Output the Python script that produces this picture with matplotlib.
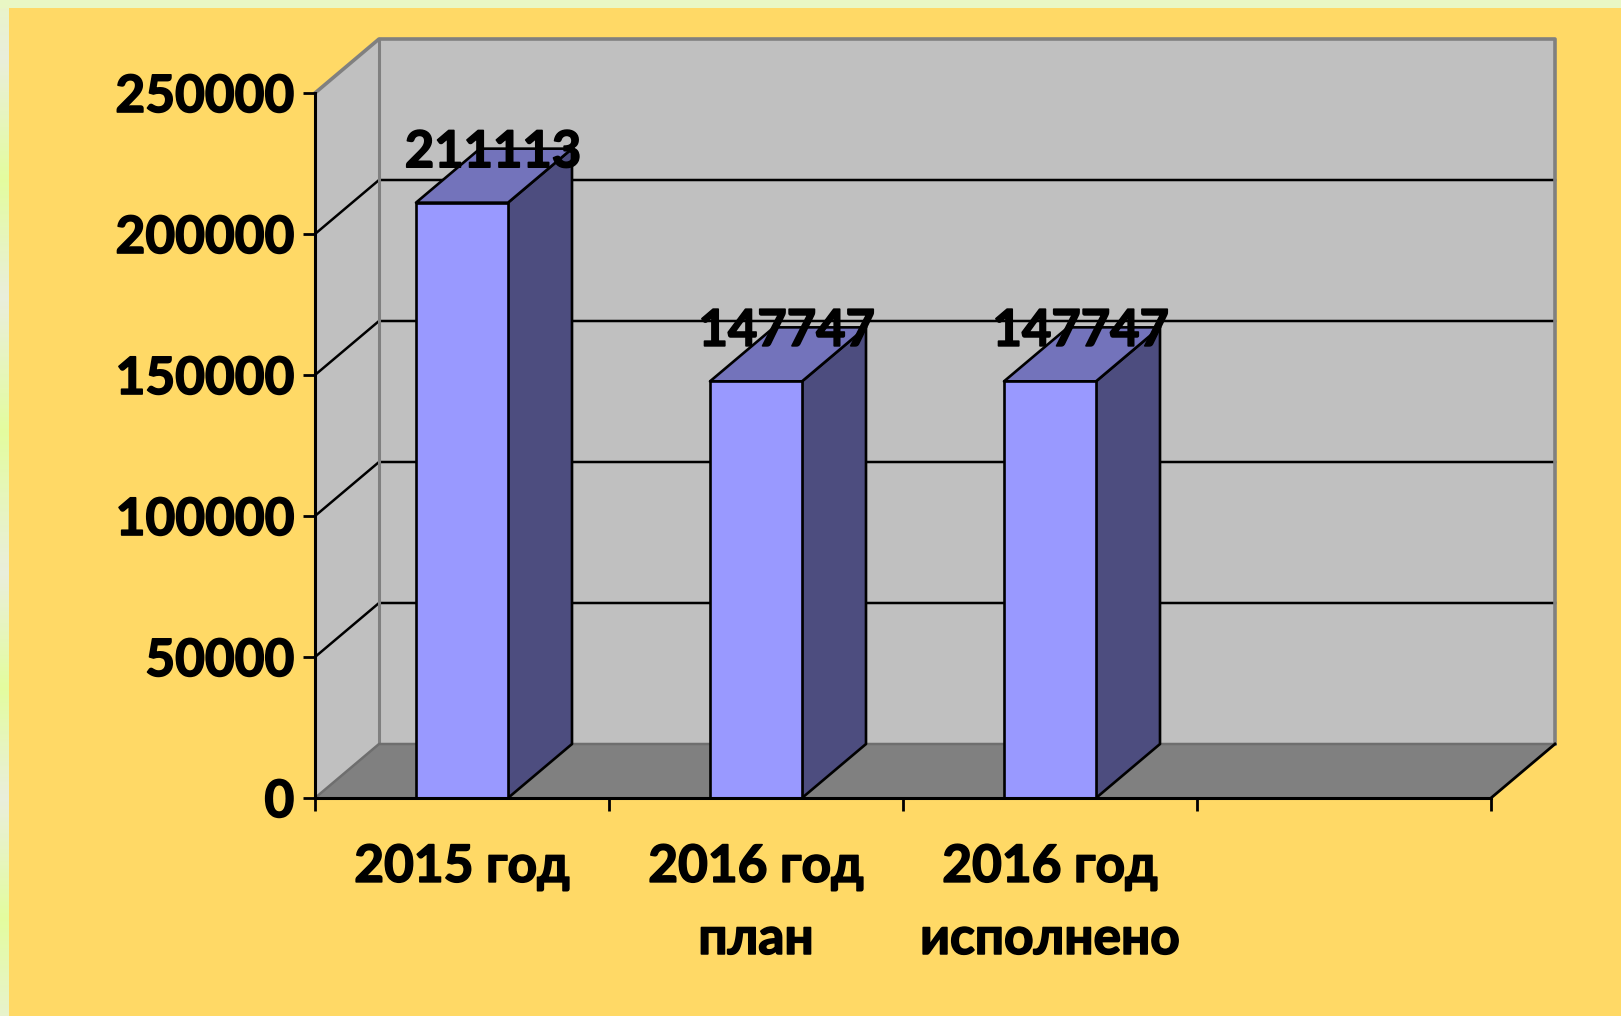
import matplotlib
matplotlib.use("Agg")
import matplotlib.pyplot as plt
from matplotlib.colors import LinearSegmentedColormap
from matplotlib.patches import Polygon, Rectangle
import matplotlib.patheffects as pe
import numpy as np

categories = ["2015 год", "2016 год\nплан", "2016 год\nисполнено"]
values = [211113, 147747, 147747]
y_ticks = [0, 50000, 100000, 150000, 200000, 250000]

W, H = 1621, 1016
plt.rcParams['font.family'] = ['Lato', 'DejaVu Sans']
plt.rcParams['font.weight'] = 'bold'

fig = plt.figure(figsize=(W / 100, H / 100), dpi=100)
heavy = [pe.withStroke(linewidth=1.2, foreground='black')]

# page background: pale strip and yellow panel
bg = fig.add_axes([0, 0, 1, 1], zorder=0)
bg.set_axis_off()
pale, green = '#EAEEDC', '#E3FD9F'
edge_rows = [(0, '#E9F5C8'), (55, pale), (179, green), (298, pale), (431, green), (573, pale),
             (688, green), (800, pale), (920, green), (1016, '#E8F3CC')]
cmap = LinearSegmentedColormap.from_list('edge', [(y / H, c) for y, c in edge_rows])
bg.imshow(np.linspace(0, 1, 512).reshape(-1, 1), cmap=cmap, aspect='auto', extent=[0, 1, 0, 1], origin='upper')
bg.add_patch(Rectangle((0, 1 - 8 / H), 1, 8 / H, transform=bg.transAxes, facecolor='#E9F7C4', edgecolor='none'))
bg.add_patch(Rectangle((8.5 / W, 0), 1, 1 - 8 / H, transform=bg.transAxes, facecolor='#FFD966', edgecolor='none'))
bg.set_xlim(0, 1)
bg.set_ylim(0, 1)

# main axes: front plane of the 3-D box
x0, x1, y0, y1 = 315, 1491, 798, 93
ax = fig.add_axes([x0 / W, 1 - y0 / H, (x1 - x0) / W, (y0 - y1) / H], zorder=1)
ax.patch.set_alpha(0)
n_slots = 4
ax.set_xlim(0, n_slots)
ax.set_ylim(0, 250000)

# depth of the box in data units
dx = 64 / ((x1 - x0) / n_slots)
dy = 54 / ((y0 - y1) / 250000)
wall = '#C0C0C0'
floor = '#808080'
edge = '#808080'
xm, ym = n_slots, 250000


def poly(points, fc, ec='none', lw=0.0, z=1.0):
    ax.add_patch(Polygon(points, closed=True, facecolor=fc, edgecolor=ec, linewidth=lw,
                         zorder=z, clip_on=False, joinstyle='round'))


# walls and floor
poly([(dx, dy), (xm + dx, dy), (xm + dx, ym + dy), (dx, ym + dy)], wall, z=1)
poly([(0, 0), (dx, dy), (dx, ym + dy), (0, ym)], wall, z=1)
poly([(0, 0), (xm, 0), (xm + dx, dy), (dx, dy)], floor, z=1.1)

# gridlines
for v in y_ticks[1:-1]:
    ax.plot([0, dx, xm + dx], [v, v + dy, v + dy], color='black', lw=1.8, zorder=1.2,
            clip_on=False, solid_joinstyle='miter')

# box edges
ax.plot([0, dx, xm + dx, xm + dx], [ym, ym + dy, ym + dy, dy], color=edge, lw=2.6, zorder=1.3, clip_on=False)
ax.plot([dx, dx], [dy, ym + dy], color=edge, lw=2.2, zorder=1.3, clip_on=False)
ax.plot([0, dx, xm + dx], [0, dy, dy], color='#6E6E6E', lw=1.8, zorder=1.3, clip_on=False)
ax.plot([xm, xm + dx], [0, dy], color='black', lw=2.0, zorder=1.3, clip_on=False)

# bars
bar_w = 92 / ((x1 - x0) / n_slots)
xc = np.arange(len(values)) + 0.5
ax.bar(xc, values, width=bar_w, color='#9999FF', edgecolor='black', linewidth=1.9, zorder=2.2, clip_on=False)
for c, v in zip(xc, values):
    l, r = c - bar_w / 2, c + bar_w / 2
    poly([(r, 0), (r + dx, dy), (r + dx, v + dy), (r, v)], '#4D4D7F', 'black', 1.9, 2.0)
    poly([(l, v), (r, v), (r + dx, v + dy), (l + dx, v + dy)], '#7373BB', 'black', 1.9, 2.1)
    ax.annotate(str(v), (c + dx / 2, v + dy), xytext=(-1, -4), textcoords='offset pixels',
                ha='center', va='center', fontsize=36.5, fontweight='bold',
                color='black', zorder=3, annotation_clip=False, path_effects=heavy)

# axes, ticks, labels
for s in ('top', 'right'):
    ax.spines[s].set_visible(False)
for s in ('left', 'bottom'):
    ax.spines[s].set_linewidth(2.2)
    ax.spines[s].set_zorder(2.5)
ax.set_yticks(y_ticks)
ax.set_yticklabels([str(t) for t in y_ticks])
ax.set_xticks(np.arange(n_slots + 1))
ax.set_xticklabels([''] * (n_slots + 1))
ax.set_xticks(xc, minor=True)
ax.set_xticklabels(categories, minor=True, fontsize=37, fontweight='bold', linespacing=1.66)
ax.tick_params(axis='y', which='major', length=9, width=2.0, pad=6, labelsize=37)
ax.tick_params(axis='x', which='major', length=9, width=2.0)
ax.tick_params(axis='x', which='minor', length=0, pad=33)
for t in ax.get_yticklabels() + ax.get_xticklabels(minor=True):
    t.set_path_effects(heavy)

fig.savefig('out.png', dpi=100, facecolor='white')
